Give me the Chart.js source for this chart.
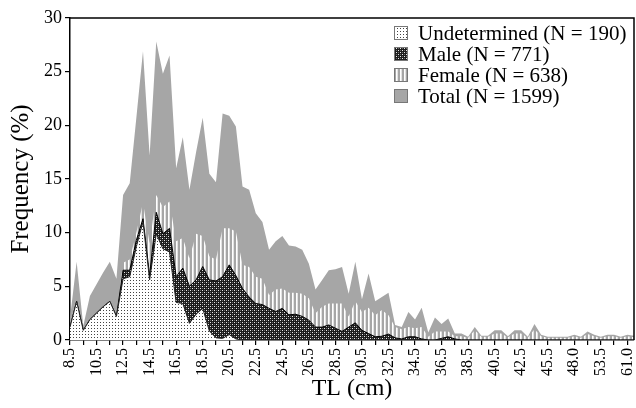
<!DOCTYPE html>
<html>
<head>
<meta charset="utf-8">
<script src="https://cdn.jsdelivr.net/npm/chart.js@4.4.1/dist/chart.umd.min.js"></script>
<style>
html, body { margin: 0; padding: 0; background: #fff; }
#wrap { width: 636px; height: 408px; }
</style>
</head>
<body>
<div id="wrap"><canvas id="c" width="636" height="408"></canvas></div>
<script>
// TL classes (cm); after 42.5 only the lengths that occur
var lengths = ['8.5','9.0','9.5','10.0','10.5','11.0','11.5','12.0','12.5','13.0','13.5','14.0','14.5','15.0','15.5','16.0','16.5','17.0','17.5','18.0',
    '18.5','19.0','19.5','20.0','20.5','21.0','21.5','22.0','22.5','23.0','23.5','24.0','24.5','25.0','25.5','26.0','26.5','27.0','27.5','28.0',
    '28.5','29.0','29.5','30.0','30.5','31.0','31.5','32.0','32.5','33.0','33.5','34.0','34.5','35.0','35.5','36.0','36.5','37.0','37.5','38.0',
    '38.5','39.0','39.5','40.0','40.5','41.0','41.5','42.0','42.5','43.0','44.0','45.0','45.5','46.0','46.5','47.0','48.0','49.0','50.5','52.0',
    '53.5','55.0','57.0','59.0','61.0','64.0'];

// heights of each stacked layer's upper edge as plotted (%)
var undetermined = [1.2,3.6,0.9,1.9,2.5,3.1,3.6,2.2,5.7,5.9, 8.7,11.0,5.6,9.9,8.5,8.2,3.5,3.4,1.55,2.4,
    2.95,0.85,0.2,0.15,0.5,0.1,0,0,0,0, 0,0,0,0,0,0,0,0,0,0, 0,0,0,0,0,0,0,0,0,0,
    0,0,0,0,0,0,0,0,0,0, 0,0,0,0,0,0,0,0,0,0, 0,0,0,0,0,0,0,0,0,0, 0,0,0,0,0,0];
var male = [1.2,3.6,0.9,1.9,2.5,3.1,3.6,2.2,6.5,6.5, 9.3,11.3,6.0,11.9,9.9,10.4,5.9,6.7,5.0,5.6,
    6.85,5.6,5.5,5.9,7.0,6.0,4.8,4.0,3.4,3.3, 2.95,2.65,2.95,2.35,2.4,2.2,1.85,1.2,1.2,1.4,
    1.1,0.8,1.2,1.6,0.9,0.6,0.3,0.35,0.55,0.2, 0.1,0.3,0.3,0.1,0,0,0.15,0.3,0.1,0,
    0,0,0,0,0,0,0,0,0,0, 0,0,0,0,0,0,0,0,0,0, 0,0,0,0,0,0];
var female = [1.2,3.6,0.9,1.9,2.5,3.1,3.6,2.2,7.2,7.5, 10.0,12.8,9.0,13.5,12.4,12.9,9.2,9.5,7.6,9.9,
    9.7,7.8,7.5,10.4,10.4,10.1,7.0,6.8,5.9,5.7, 4.2,4.7,4.8,4.4,4.4,4.3,3.9,2.5,3.1,3.4,
    3.4,3.4,2.2,3.6,2.6,3.0,2.3,2.8,2.3,1.2, 1.0,1.2,1.1,1.2,0.3,0.8,0.8,0.8,0.35,0.35,
    0.2,0.9,0.3,0.3,0.6,0.6,0.25,0.6,0.6,0.2, 1.0,0.35,0.2,0.2,0.2,0.2,0.35,0.2,0.55,0.35,
    0.2,0.35,0.35,0.2,0.35,0.25];
var total = [2.0,7.3,1.3,4.1,5.2,6.3,7.3,5.7,13.5,14.6, 20.7,26.9,17.2,27.8,24.8,26.5,16.0,18.9,14.0,17.5,
    20.7,15.5,14.7,21.1,20.9,19.9,14.3,14.0,11.8,11.0, 8.4,9.2,9.7,8.8,8.7,8.4,7.1,4.7,5.6,6.5,
    6.6,6.8,4.3,7.3,3.8,6.2,3.6,4.0,4.4,1.4, 1.2,2.6,1.9,3.0,0.7,2.1,1.5,2.0,0.6,0.6,
    0.3,1.2,0.4,0.4,0.9,0.9,0.35,0.9,0.9,0.3, 1.5,0.5,0.3,0.3,0.3,0.3,0.5,0.3,0.8,0.5,
    0.3,0.5,0.5,0.3,0.5,0.4];

var seriesNames = ['Undetermined (N = 190)', 'Male (N = 771)', 'Female (N = 638)', 'Total (N = 1599)'];
var yTicks = [0, 5, 10, 15, 20, 25, 30];

var SERIF = '"Liberation Serif", "Times New Roman", serif';
var GRAY = '#a6a6a6';

function makePattern(w, h, draw) {
    var c = document.createElement('canvas');
    c.width = w; c.height = h;
    var g = c.getContext('2d');
    draw(g);
    return g.createPattern(c, 'repeat');
}
var dots = makePattern(3, 3, function (g) {
    g.fillStyle = '#fff'; g.fillRect(0, 0, 3, 3);
    g.fillStyle = '#444'; g.fillRect(1, 1, 1, 1);
});
var hatch = makePattern(4, 4, function (g) {
    g.fillStyle = '#1c1c1c'; g.fillRect(0, 0, 4, 4);
    g.fillStyle = '#e8e8e8'; g.fillRect(0, 0, 1, 1); g.fillRect(2, 2, 1, 1);
    g.fillStyle = '#6a6a6a'; g.fillRect(2, 0, 1, 1); g.fillRect(0, 2, 1, 1);
});
var stripes = makePattern(4, 1, function (g) {
    g.fillStyle = GRAY; g.fillRect(0, 0, 4, 1);
    g.fillStyle = '#fff'; g.fillRect(0, 0, 1, 1);
    g.fillStyle = '#e2e2e2'; g.fillRect(1, 0, 1, 1);
});

function area(label, data, fill, border) {
    return {
        label: label, data: data, backgroundColor: fill,
        borderColor: border || 'rgba(0,0,0,0)', borderWidth: border ? 1 : 0,
        fill: 'origin', pointRadius: 0, pointHoverRadius: 0, tension: 0
    };
}

// frame, axis titles and legend
var overlay = {
    id: 'overlay',
    afterDraw: function (chart) {
        var ctx = chart.ctx, a = chart.chartArea;
        ctx.save();
        ctx.strokeStyle = '#000'; ctx.lineWidth = 1.5;
        ctx.beginPath();
        ctx.moveTo(a.left, a.top); ctx.lineTo(a.right, a.top); ctx.lineTo(a.right, a.bottom);
        ctx.stroke();

        ctx.fillStyle = '#000';
        ctx.textAlign = 'center'; ctx.textBaseline = 'middle';
        ctx.font = '24px ' + SERIF;
        ctx.fillText('TL (cm)', (a.left + a.right) / 2, 389);
        ctx.save();
        ctx.translate(21, (a.top + a.bottom) / 2);
        ctx.rotate(-Math.PI / 2);
        ctx.font = '25px ' + SERIF;
        ctx.fillText('Frequency (%)', 0, 0);
        ctx.restore();

        ctx.textAlign = 'left';
        ctx.font = '21px ' + SERIF;
        chart.data.datasets.forEach(function (ds, i) {
            var y = 33 + i * 21;
            ctx.fillStyle = ds.backgroundColor;
            ctx.fillRect(394, y - 7, 14, 14);
            ctx.strokeStyle = '#777'; ctx.lineWidth = 1;
            ctx.strokeRect(394.5, y - 6.5, 13, 13);
            ctx.fillStyle = '#000';
            ctx.fillText(ds.label, 418, y + 1);
        });
        ctx.restore();
    }
};

new Chart(document.getElementById('c'), {
    type: 'line',
    data: {
        labels: lengths,
        datasets: [
            area(seriesNames[0], undetermined, dots, '#222'),
            area(seriesNames[1], male, hatch, '#000'),
            area(seriesNames[2], female, stripes),
            area(seriesNames[3], total, GRAY)
        ]
    },
    options: {
        responsive: false,
        devicePixelRatio: 1,
        animation: false,
        layout: { padding: { top: 18, right: 2, left: 0, bottom: 0 } },
        plugins: { legend: { display: false }, tooltip: { enabled: false } },
        scales: {
            x: {
                type: 'category',
                offset: false,
                grid: {
                    drawOnChartArea: false, tickLength: 5, lineWidth: 1.2,
                    color: function (c) { return c.index % 2 === 0 ? '#000' : 'rgba(0,0,0,0)'; }
                },
                border: { color: '#000', width: 1.5 },
                ticks: {
                    autoSkip: false, maxRotation: 90, minRotation: 90, padding: 3,
                    color: '#000', font: { family: SERIF, size: 16 },
                    callback: function (v, i) { return i % 4 === 0 ? this.getLabelForValue(v) : ''; }
                },
                afterFit: function (s) { s.height = 68; s.paddingLeft = 0; s.paddingRight = 0; }
            },
            y: {
                min: yTicks[0], max: yTicks[yTicks.length - 1],
                afterBuildTicks: function (s) { s.ticks = yTicks.map(function (v) { return { value: v }; }); },
                grid: { drawOnChartArea: false, tickLength: 5, lineWidth: 1.2, color: '#000' },
                border: { color: '#000', width: 1.5 },
                ticks: { padding: 3, color: '#000', font: { family: SERIF, size: 18 } },
                afterFit: function (s) { s.width = 70; }
            }
        }
    },
    plugins: [overlay]
});
</script>
</body>
</html>
